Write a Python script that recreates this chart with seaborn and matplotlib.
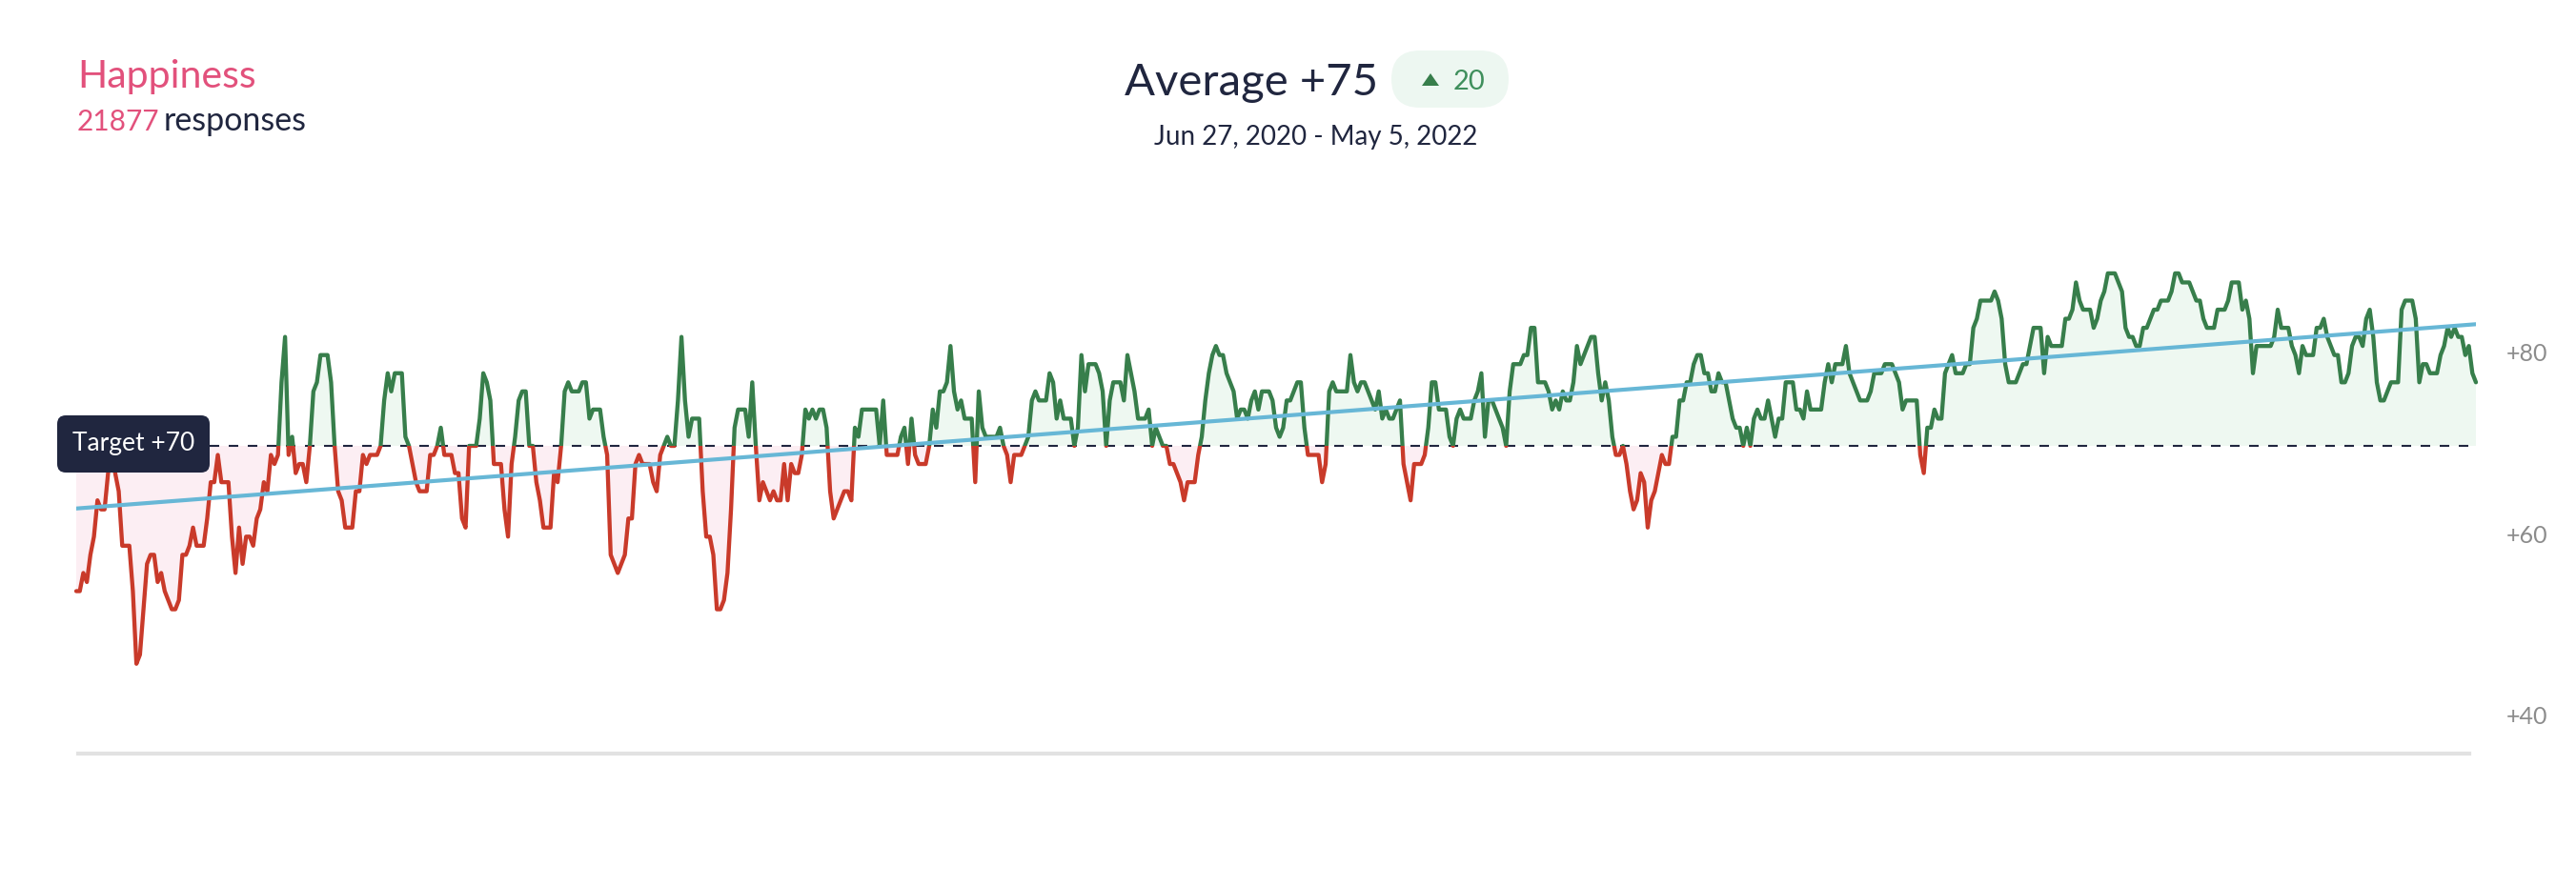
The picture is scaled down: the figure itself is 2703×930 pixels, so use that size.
"""
plot.py - Happiness score over time against the +70 target.
"""

import numpy as np
import matplotlib
matplotlib.use("Agg")
import matplotlib.pyplot as plt
from matplotlib.patches import FancyBboxPatch, Polygon, Rectangle
from matplotlib.transforms import ScaledTranslation
import seaborn as sns

# ---------------------------------------------------------------------------
# Data (one daily value, Jun 2020 - May 2022)
# ---------------------------------------------------------------------------
scores = [
    54, 54, 56, 55, 58, 60, 64, 63, 63, 67, 70, 67, 65, 59, 59, 59, 54, 46, 47, 52,
    57, 58, 58, 55, 56, 54, 53, 52, 52, 53, 58, 58, 59, 61, 59, 59, 59, 62, 66, 66,
    69, 66, 66, 66, 60, 56, 61, 57, 60, 60, 59, 62, 63, 66, 65, 69, 68, 69, 77, 82,
    69, 71, 67, 68, 68, 66, 70, 76, 77, 80, 80, 80, 77, 70, 65, 64, 61, 61, 61, 65,
    65, 69, 68, 69, 69, 69, 70, 75, 78, 76, 78, 78, 78, 71, 70, 68, 66, 65, 65, 65,
    69, 69, 70, 72, 69, 69, 69, 67, 67, 62, 61, 70, 70, 70, 73, 78, 77, 75, 68, 68,
    68, 63, 60, 68, 71, 75, 76, 76, 70, 70, 66, 64, 61, 61, 61, 67, 66, 70, 76, 77,
    76, 76, 76, 77, 77, 73, 74, 74, 74, 71, 69, 58, 57, 56, 57, 58, 62, 62, 68, 69,
    68, 68, 68, 66, 65, 69, 70, 71, 70, 70, 75, 82, 75, 71, 73, 73, 73, 65, 60, 60,
    58, 52, 52, 53, 56, 63, 72, 74, 74, 74, 71, 77, 70, 64, 66, 65, 64, 65, 64, 64,
    68, 64, 68, 67, 67, 69, 74, 73, 74, 73, 74, 74, 72, 65, 62, 63, 64, 65, 65, 64,
    72, 71, 74, 74, 74, 74, 74, 70, 75, 69, 69, 69, 69, 71, 72, 68, 73, 69, 68, 68,
    68, 70, 74, 72, 76, 76, 77, 81, 76, 74, 75, 73, 73, 73, 66, 76, 72, 71, 71, 71,
    71, 72, 70, 69, 66, 69, 69, 69, 70, 71, 75, 76, 75, 75, 75, 78, 77, 73, 75, 73,
    73, 73, 70, 72, 80, 76, 79, 79, 79, 78, 76, 70, 75, 77, 77, 77, 75, 80, 78, 76,
    73, 73, 73, 74, 70, 72, 71, 70, 70, 68, 68, 67, 66, 64, 66, 66, 66, 69, 71, 75,
    78, 80, 81, 80, 80, 78, 77, 76, 73, 74, 74, 73, 75, 76, 74, 76, 76, 76, 75, 72,
    71, 72, 75, 75, 76, 77, 77, 72, 69, 69, 69, 69, 66, 68, 76, 77, 76, 76, 76, 76,
    80, 77, 76, 77, 77, 76, 75, 74, 76, 73, 74, 73, 73, 74, 75, 68, 66, 64, 68, 68,
    68, 69, 72, 77, 77, 74, 74, 74, 71, 70, 73, 74, 73, 73, 73, 75, 76, 78, 71, 75,
    75, 74, 73, 72, 70, 76, 79, 79, 79, 80, 80, 83, 83, 77, 77, 77, 76, 74, 75, 74,
    76, 75, 75, 77, 81, 79, 80, 81, 82, 82, 78, 75, 77, 75, 71, 69, 69, 70, 68, 65,
    63, 64, 67, 66, 61, 64, 65, 67, 69, 68, 68, 71, 71, 75, 75, 77, 77, 79, 80, 80,
    78, 78, 76, 76, 78, 77, 77, 75, 73, 72, 72, 70, 72, 70, 73, 74, 73, 73, 75, 73,
    71, 73, 73, 77, 77, 77, 74, 74, 73, 76, 74, 74, 74, 74, 77, 79, 77, 79, 79, 79,
    81, 78, 77, 76, 75, 75, 75, 76, 78, 78, 78, 79, 79, 79, 78, 77, 74, 75, 75, 75,
    75, 69, 67, 72, 72, 74, 73, 73, 78, 79, 80, 78, 78, 78, 79, 79, 83, 84, 86, 86,
    86, 86, 87, 86, 84, 79, 77, 77, 77, 78, 79, 79, 81, 83, 83, 83, 78, 82, 81, 81,
    81, 81, 84, 84, 85, 88, 86, 85, 85, 85, 83, 84, 86, 87, 89, 89, 89, 88, 87, 83,
    82, 82, 81, 81, 83, 83, 84, 85, 85, 86, 86, 86, 87, 89, 89, 88, 88, 88, 87, 86,
    86, 84, 83, 83, 83, 85, 85, 85, 86, 88, 88, 88, 85, 86, 84, 78, 81, 81, 81, 81,
    81, 82, 85, 83, 83, 83, 81, 80, 78, 81, 80, 80, 80, 83, 83, 84, 82, 81, 80, 80,
    77, 77, 78, 81, 82, 82, 81, 84, 85, 82, 77, 75, 75, 76, 77, 77, 77, 85, 86, 86,
    86, 84, 77, 79, 79, 78, 78, 78, 80, 81, 83, 82, 83, 82, 82, 80, 81, 78, 77,
]
trend_scores = [63.1, 83.4]
target = 70
y_ticks = [40, 60, 80]
y_tick_labels = ["+40", "+60", "+80"]

# ---------------------------------------------------------------------------
# Colours and figure geometry (pixels)
# ---------------------------------------------------------------------------
NAVY = "#20263F"
PINK = "#E2517C"
GREEN = "#377E4B"
RED = "#C93A2A"
BLUE = "#67B7D6"
GREEN_FILL = "#EEF8F1"
RED_FILL = "#FCEEF3"
BADGE_FILL = "#EDF7F1"
BADGE_TEXT = "#3F8F5C"
TICK_GREY = "#8C8C8C"
AXIS_GREY = "#E2E2E2"

WIDTH, HEIGHT = 2703, 930
PLOT_LEFT, PLOT_RIGHT = 80, 2598
PLOT_TOP, PLOT_BOTTOM = 250, 791
TARGET_Y = 468
PX_PER_UNIT = 9.53

sns.set_theme(style="white")
plt.rcParams["font.family"] = ["Lato", "DejaVu Sans"]

fig = plt.figure(figsize=(WIDTH / 100, HEIGHT / 100), dpi=100, facecolor="white")
ax = fig.add_axes([
    PLOT_LEFT / WIDTH,
    1 - PLOT_BOTTOM / HEIGHT,
    (PLOT_RIGHT - PLOT_LEFT) / WIDTH,
    (PLOT_BOTTOM - PLOT_TOP) / HEIGHT,
])

values = np.array(scores, dtype=float)
days = np.arange(len(values))
last_day = days[-1]

ax.set_xlim(0, last_day)
ax.set_ylim(
    target - (PLOT_BOTTOM - TARGET_Y) / PX_PER_UNIT,
    target + (TARGET_Y - PLOT_TOP) / PX_PER_UNIT,
)

# Areas between the score and the target
ax.fill_between(days, values, target, where=values >= target, interpolate=True,
                color=GREEN_FILL, linewidth=0)
ax.fill_between(days, values, target, where=values <= target, interpolate=True,
                color=RED_FILL, linewidth=0)

ax.hlines(target, 0, last_day - 2, color=NAVY, linewidth=1.5,
          linestyles=(0, (4.8, 4.8)), zorder=2)

# Same line twice, each colour clipped to its side of the target
y_low, y_high = ax.get_ylim()
sides = [(GREEN, target, y_high - target), (RED, y_low, target - y_low)]
for color, y_start, span in sides:
    sns.lineplot(x=days, y=values, color=color, linewidth=3.1, estimator=None,
                 errorbar=None, ax=ax, zorder=3)
    ax.lines[-1].set_clip_path(
        Rectangle((-5, y_start), last_day + 10, span, transform=ax.transData)
    )

sns.lineplot(x=[0, last_day], y=trend_scores, color=BLUE, linewidth=3.0,
             estimator=None, errorbar=None, ax=ax, zorder=4)

ax.set_xticks([])
ax.set_xlabel("")
ax.set_ylabel("")
ax.yaxis.tick_right()
ax.set_yticks(y_ticks)
ax.set_yticklabels(y_tick_labels, fontsize=18, color=TICK_GREY)
ax.tick_params(axis="y", length=0, pad=23)
# tick labels sit a little above their level in the original
for label in ax.get_yticklabels():
    label.set_transform(label.get_transform()
                        + ScaledTranslation(0, 3 / 100, fig.dpi_scale_trans))
sns.despine(ax=ax, left=True, right=True, top=True)
ax.spines["bottom"].set_color(AXIS_GREY)
ax.spines["bottom"].set_linewidth(3)
ax.spines["bottom"].set_bounds(0.5, last_day - 2)
ax.patch.set_alpha(0)

# ---------------------------------------------------------------------------
# Header and target label, placed in pixels on a transparent overlay
# ---------------------------------------------------------------------------
overlay = fig.add_axes([0, 0, 1, 1])
overlay.set_xlim(0, WIDTH)
overlay.set_ylim(HEIGHT, 0)
overlay.set_axis_off()
overlay.patch.set_alpha(0)

overlay.text(81, 92, "Happiness", color=PINK, fontsize=29.5, va="baseline")
overlay.text(81, 137, "21877", color=PINK, fontsize=21.5, va="baseline")
overlay.text(172, 137, "responses", color=NAVY, fontsize=24.5, va="baseline")

overlay.text(1180, 100, "Average +75", color=NAVY, fontsize=34, va="baseline")
overlay.text(1381, 152, "Jun 27, 2020 - May 5, 2022", color=NAVY, fontsize=20,
             ha="center", va="baseline")

overlay.add_patch(FancyBboxPatch((1460, 53), 123, 60,
                                 boxstyle="round,pad=0,rounding_size=30",
                                 facecolor=BADGE_FILL, linewidth=0))
overlay.add_patch(Polygon([(1492, 90), (1510, 90), (1501, 77)], closed=True,
                          facecolor=GREEN, linewidth=0))
overlay.text(1525, 94, "20", color=BADGE_TEXT, fontsize=21, va="baseline")

overlay.add_patch(FancyBboxPatch((60, 436), 160, 60,
                                 boxstyle="round,pad=0,rounding_size=9",
                                 facecolor=NAVY, linewidth=0))
overlay.text(76, 473, "Target +70", color="white", fontsize=19, va="baseline")

fig.savefig("out.png", dpi=100, facecolor="white")
plt.close(fig)
